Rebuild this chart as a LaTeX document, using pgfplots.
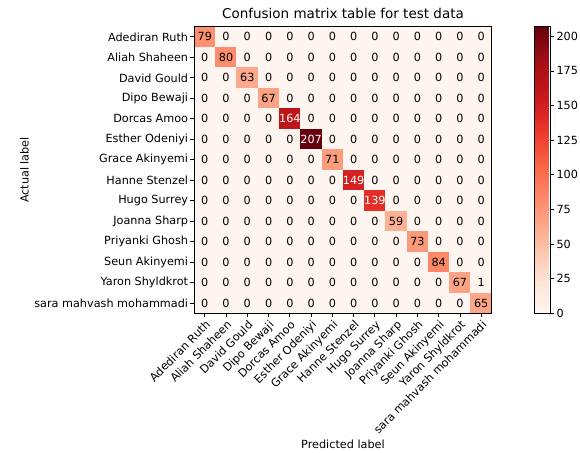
\documentclass[border=0pt]{standalone}
\usepackage{pgfplots}
\pgfplotsset{compat=1.18}
\usepackage{fontspec}
\setmainfont{DejaVu Sans}
\newcommand{\tfont}{\fontsize{11.4bp}{13.5bp}\selectfont}
\begin{document}
\begin{tikzpicture}
\begin{axis}[
  at={(0,0)}, anchor=south west,
  scale only axis, width=302bp, height=291bp,
  xmin=-0.5, xmax=13.5, ymin=-0.5, ymax=13.5,
  xtick={0,...,13}, ytick={0,...,13},
  xticklabels={Adediran Ruth, Aliah Shaheen, David Gould, Dipo Bewaji, Dorcas Amoo, Esther Odeniyi, Grace Akinyemi, Hanne Stenzel, Hugo Surrey, Joanna Sharp, Priyanki Ghosh, Seun Akinyemi, Yaron Shyldkrot, sara mahvash mohammadi},
  yticklabels={sara mahvash mohammadi, Yaron Shyldkrot, Seun Akinyemi, Priyanki Ghosh, Joanna Sharp, Hugo Surrey, Hanne Stenzel, Grace Akinyemi, Esther Odeniyi, Dorcas Amoo, Dipo Bewaji, David Gould, Aliah Shaheen, Adediran Ruth},
  tick align=outside, tick pos=left,
  major tick length=4bp,
  every tick/.style={black, line width=0.8bp},
  axis line style={black, line width=0.8bp},
  axis on top,
  x tick label style={rotate=45, anchor=north east, inner sep=1.5bp},
  y tick label style={inner sep=2bp},
  tick label style={font=\tfont},
  label style={font=\tfont},
  title={Confusion matrix table for test data},
  title style={font=\fontsize{13.7bp}{16bp}\selectfont, yshift=-1bp},
  xlabel={Predicted label}, ylabel={Actual label},
  colormap={reds}{rgb255=(255,245,240) rgb255=(254,224,210) rgb255=(252,187,161) rgb255=(252,146,114) rgb255=(251,106,74) rgb255=(239,59,44) rgb255=(203,24,29) rgb255=(165,15,21) rgb255=(103,0,13)},
  point meta min=0, point meta max=207,
  colorbar,
  colorbar style={
    at={(parent axis.north east)}, anchor=north west, xshift=35bp,
    scale only axis, width=16bp,
    ytick={0,25,...,200},
    tick align=outside, major tick length=4bp,
    ytick pos=right, yticklabel pos=right,
    every tick/.style={black, line width=0.8bp},
    yticklabel style={font=\tfont, inner sep=2bp},
    axis line style={black, line width=0.8bp},
    /pgf/number format/assume math mode=true,
  },
]
\addplot[matrix plot*, mesh/cols=14, point meta=explicit,
  visualization depends on={value \thisrow{c} \as \cval},
  nodes near coords={\ifnum\cval>103 \color{white}\fi\cval},
  nodes near coords style={anchor=center, font=\tfont, inner sep=0pt},
] table[row sep=\\, meta=c] {
x y c\\
0 13 79\\ 1 13 0\\ 2 13 0\\ 3 13 0\\ 4 13 0\\ 5 13 0\\ 6 13 0\\ 7 13 0\\ 8 13 0\\ 9 13 0\\ 10 13 0\\ 11 13 0\\ 12 13 0\\ 13 13 0\\
0 12 0\\ 1 12 80\\ 2 12 0\\ 3 12 0\\ 4 12 0\\ 5 12 0\\ 6 12 0\\ 7 12 0\\ 8 12 0\\ 9 12 0\\ 10 12 0\\ 11 12 0\\ 12 12 0\\ 13 12 0\\
0 11 0\\ 1 11 0\\ 2 11 63\\ 3 11 0\\ 4 11 0\\ 5 11 0\\ 6 11 0\\ 7 11 0\\ 8 11 0\\ 9 11 0\\ 10 11 0\\ 11 11 0\\ 12 11 0\\ 13 11 0\\
0 10 0\\ 1 10 0\\ 2 10 0\\ 3 10 67\\ 4 10 0\\ 5 10 0\\ 6 10 0\\ 7 10 0\\ 8 10 0\\ 9 10 0\\ 10 10 0\\ 11 10 0\\ 12 10 0\\ 13 10 0\\
0 9 0\\ 1 9 0\\ 2 9 0\\ 3 9 0\\ 4 9 164\\ 5 9 0\\ 6 9 0\\ 7 9 0\\ 8 9 0\\ 9 9 0\\ 10 9 0\\ 11 9 0\\ 12 9 0\\ 13 9 0\\
0 8 0\\ 1 8 0\\ 2 8 0\\ 3 8 0\\ 4 8 0\\ 5 8 207\\ 6 8 0\\ 7 8 0\\ 8 8 0\\ 9 8 0\\ 10 8 0\\ 11 8 0\\ 12 8 0\\ 13 8 0\\
0 7 0\\ 1 7 0\\ 2 7 0\\ 3 7 0\\ 4 7 0\\ 5 7 0\\ 6 7 71\\ 7 7 0\\ 8 7 0\\ 9 7 0\\ 10 7 0\\ 11 7 0\\ 12 7 0\\ 13 7 0\\
0 6 0\\ 1 6 0\\ 2 6 0\\ 3 6 0\\ 4 6 0\\ 5 6 0\\ 6 6 0\\ 7 6 149\\ 8 6 0\\ 9 6 0\\ 10 6 0\\ 11 6 0\\ 12 6 0\\ 13 6 0\\
0 5 0\\ 1 5 0\\ 2 5 0\\ 3 5 0\\ 4 5 0\\ 5 5 0\\ 6 5 0\\ 7 5 0\\ 8 5 139\\ 9 5 0\\ 10 5 0\\ 11 5 0\\ 12 5 0\\ 13 5 0\\
0 4 0\\ 1 4 0\\ 2 4 0\\ 3 4 0\\ 4 4 0\\ 5 4 0\\ 6 4 0\\ 7 4 0\\ 8 4 0\\ 9 4 59\\ 10 4 0\\ 11 4 0\\ 12 4 0\\ 13 4 0\\
0 3 0\\ 1 3 0\\ 2 3 0\\ 3 3 0\\ 4 3 0\\ 5 3 0\\ 6 3 0\\ 7 3 0\\ 8 3 0\\ 9 3 0\\ 10 3 73\\ 11 3 0\\ 12 3 0\\ 13 3 0\\
0 2 0\\ 1 2 0\\ 2 2 0\\ 3 2 0\\ 4 2 0\\ 5 2 0\\ 6 2 0\\ 7 2 0\\ 8 2 0\\ 9 2 0\\ 10 2 0\\ 11 2 84\\ 12 2 0\\ 13 2 0\\
0 1 0\\ 1 1 0\\ 2 1 0\\ 3 1 0\\ 4 1 0\\ 5 1 0\\ 6 1 0\\ 7 1 0\\ 8 1 0\\ 9 1 0\\ 10 1 0\\ 11 1 0\\ 12 1 67\\ 13 1 1\\
0 0 0\\ 1 0 0\\ 2 0 0\\ 3 0 0\\ 4 0 0\\ 5 0 0\\ 6 0 0\\ 7 0 0\\ 8 0 0\\ 9 0 0\\ 10 0 0\\ 11 0 0\\ 12 0 0\\ 13 0 65\\
};
\end{axis}
\path (-197bp,-132bp) rectangle (383bp,318bp);
\end{tikzpicture}
\end{document}
